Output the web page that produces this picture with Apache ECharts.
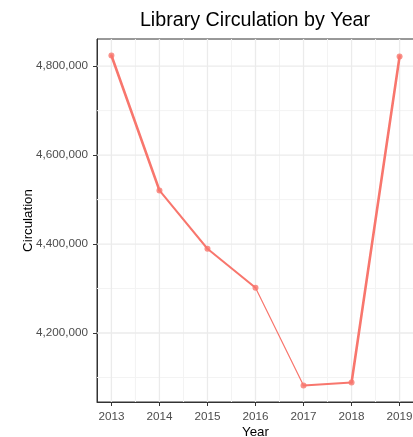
<!DOCTYPE html>
<html><head><meta charset="utf-8">
<script src="https://cdn.jsdelivr.net/npm/echarts@6/dist/echarts.min.js"></script>
<style>html,body{margin:0;padding:0;background:#fff}#c{width:413px;height:437px}</style>
</head><body><div id="c"></div>
<script>
const years = [2013, 2014, 2015, 2016, 2017, 2018, 2019];
const circulation = [4824000, 4520700, 4389500, 4301600, 4082000, 4088800, 4822000];
const xTicks = [2013, 2014, 2015, 2016, 2017, 2018, 2019];
const xMinorTicks = [2013.5, 2014.5, 2015.5, 2016.5, 2017.5, 2018.5];
const yTicks = [4200000, 4400000, 4600000, 4800000];
const yMinorTicks = [4100000, 4300000, 4500000, 4700000];

const X_MIN = 2012.7, X_MAX = 2019.3;
const Y_MIN = 4044900, Y_MAX = 4861100;
const LINE_COLOR = '#F8766D';
const segWidths = [2.6, 2, 2, 1.2, 2, 2.6];
const font = 'Liberation Sans, Arial, sans-serif';

const points = years.map((y, i) => [y, circulation[i]]);

const series = [];
function gridSeries(data, color, width) {
  series.push({
    type: 'line', data: data, showSymbol: false, silent: true, z: 1,
    lineStyle: { color: color, width: width, type: 'solid' }
  });
}
xMinorTicks.forEach(v => gridSeries([[v, Y_MIN], [v, Y_MAX]], '#f3f3f3', 1));
yMinorTicks.forEach(v => gridSeries([[X_MIN, v], [X_MAX, v]], '#f3f3f3', 1));
xTicks.forEach(v => gridSeries([[v, Y_MIN], [v, Y_MAX]], '#ebebeb', 1.3));
yTicks.forEach(v => gridSeries([[X_MIN, v], [X_MAX, v]], '#ebebeb', 1.3));

for (let i = 0; i < years.length - 1; i++) {
  series.push({
    type: 'line',
    data: [points[i], points[i + 1]],
    showSymbol: false,
    lineStyle: { color: LINE_COLOR, width: segWidths[i], cap: 'round', join: 'round' },
    z: 3,
    silent: true
  });
}
series.push({
  type: 'scatter',
  data: points,
  symbol: 'circle',
  symbolSize: 6,
  itemStyle: { color: LINE_COLOR },
  z: 4,
  silent: true
});

const chart = echarts.init(document.getElementById('c'), null, { renderer: 'canvas' });
chart.setOption({
  animation: false,
  backgroundColor: '#fff',
  title: {
    text: 'Library Circulation by Year',
    left: 255,
    textAlign: 'center',
    top: 11,
    padding: 0,
    textStyle: { fontSize: 19.7, fontWeight: 'normal', color: '#000', fontFamily: font }
  },
  grid: {
    left: 97, top: 39, width: 317, height: 363,
    show: true, borderColor: '#333', borderWidth: 1,
    containLabel: false, outerBoundsMode: 'none'
  },
  xAxis: {
    type: 'value',
    min: X_MIN, max: X_MAX,
    name: 'Year', nameLocation: 'middle', nameGap: 24, nameMoveOverlap: false,
    nameTextStyle: { fontSize: 13.3, color: '#000', fontFamily: font },
    axisLine: { show: true, lineStyle: { color: '#333', width: 1 } },
    axisTick: { show: true, length: 4, lineStyle: { color: '#333' }, customValues: xTicks },
    axisLabel: { customValues: xTicks, color: '#4d4d4d', fontSize: 11.7, fontFamily: font, margin: 9,
      formatter: v => String(v) },
    splitLine: { show: false },
    minorSplitLine: { show: false }
  },
  yAxis: {
    type: 'value',
    min: Y_MIN, max: Y_MAX,
    name: 'Circulation', nameLocation: 'middle', nameGap: 62, nameMoveOverlap: false,
    nameTextStyle: { fontSize: 13.3, color: '#000', fontFamily: font },
    axisLine: { show: true, lineStyle: { color: '#333', width: 1 } },
    axisTick: { show: true, length: 4, lineStyle: { color: '#333' }, customValues: yTicks },
    axisLabel: { customValues: yTicks, color: '#4d4d4d', fontSize: 11.7, fontFamily: font, margin: 9,
      formatter: v => Math.round(v).toLocaleString('en-US') },
    splitLine: { show: false },
    minorSplitLine: { show: false }
  },
  series: series
});
</script></body></html>
